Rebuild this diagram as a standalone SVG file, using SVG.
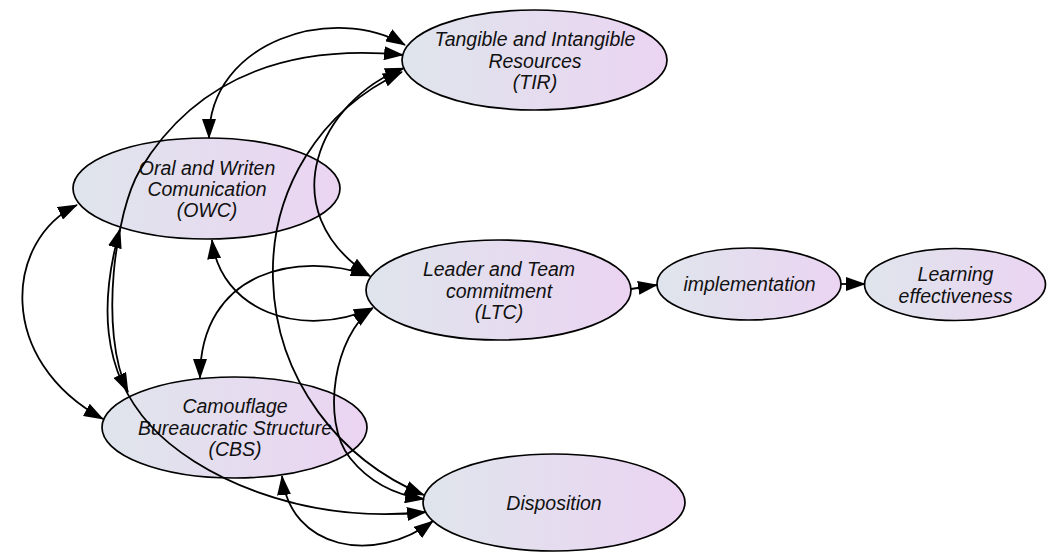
<svg xmlns="http://www.w3.org/2000/svg" width="1048" height="552" viewBox="0 0 1048 552">
<style>
.n{fill:url(#g);stroke:#000;stroke-width:1.7}
.t{font-family:"Liberation Sans",Arial,sans-serif;font-style:italic;font-size:19.5px;fill:#111;text-anchor:middle}
.e{fill:none;stroke:#000;stroke-width:1.8}
.b{marker-start:url(#ah);marker-end:url(#ah)}
.o{marker-end:url(#ah)}
</style>
<defs>
<linearGradient id="g" x1="0" y1="0" x2="1" y2="0">
<stop offset="0" stop-color="#dfe5ec"/>
<stop offset="1" stop-color="#ebd4f2"/>
</linearGradient>
<marker id="ah" viewBox="0 0 20 14" markerWidth="20" markerHeight="14" refX="19" refY="7" orient="auto-start-reverse" markerUnits="userSpaceOnUse">
<path d="M0,0 L20,7 L0,14 z" fill="#000"/>
</marker>
</defs>
<rect width="1048" height="552" fill="#fff"/>
<g id="TIR"><ellipse class="n" cx="534.5" cy="60" rx="132.5" ry="50"/>
<text class="t" x="535" y="46">Tangible and Intangible</text><text class="t" x="535" y="67.5">Resources</text><text class="t" x="535" y="89">(TIR)</text></g>
<g id="OWC"><ellipse class="n" cx="206.5" cy="188.5" rx="133.5" ry="50.5"/>
<text class="t" x="207" y="175">Oral and Writen</text><text class="t" x="207" y="196">Comunication</text><text class="t" x="207" y="217">(OWC)</text></g>
<g id="LTC"><ellipse class="n" cx="498.5" cy="290" rx="132.5" ry="50"/>
<text class="t" x="499" y="276">Leader and Team</text><text class="t" x="499" y="297.5">commitment</text><text class="t" x="499" y="319">(LTC)</text></g>
<g id="IMP"><ellipse class="n" cx="749" cy="284" rx="92" ry="36"/>
<text class="t" x="749.5" y="291">implementation</text></g>
<g id="LE"><ellipse class="n" cx="955" cy="284.5" rx="90.5" ry="36"/>
<text class="t" x="955.5" y="281">Learning</text><text class="t" x="955.5" y="302.5">effectiveness</text></g>
<g id="CBS"><ellipse class="n" cx="234.5" cy="427.5" rx="132.5" ry="50.5"/>
<text class="t" x="235" y="413">Camouflage</text><text class="t" x="235" y="434.5">Bureaucratic Structure</text><text class="t" x="235" y="456">(CBS)</text></g>
<g id="DIS"><ellipse class="n" cx="554" cy="502.5" rx="131" ry="48.5"/>
<text class="t" x="554" y="510">Disposition</text></g>
<g id="connectors">
<path class="e b" d="M209,138 C209,40 335,3 405,45"/>
<path class="e b" d="M403,55 C300,45 200,70 140,170 C116,210 98,330 128,392"/>
<path class="e b" d="M120,229 C100,300 100,370 150,425 C195,475 300,525 426,512"/>
<path class="e b" d="M77,205 C5,240 -5,360 103,419"/>
<path class="e b" d="M212,240 C220,310 300,340 373,308"/>
<path class="e b" d="M370,276 C300,250 200,270 200,378"/>
<path class="e b" d="M404,68 C320,100 270,210 369,275"/>
<path class="e b" d="M402,72 C320,110 270,190 273,280 C276,380 340,460 424,495"/>
<path class="e b" d="M372,309 C335,335 320,420 350,458 C370,483 395,495 424,499"/>
<path class="e b" d="M282,476 C290,550 375,565 433,521"/>
<path class="e o" d="M631,289 L657,285"/>
<path class="e o" d="M841,284 L865,284"/>
</g>
</svg>
